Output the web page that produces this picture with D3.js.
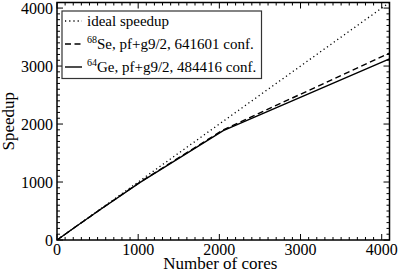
<!DOCTYPE html>
<html><head><meta charset="utf-8">
<script src="https://cdn.jsdelivr.net/npm/d3@7"></script>
<style>body{margin:0;background:#fff}svg{display:block}</style>
</head><body><svg id="c" width="399" height="272"></svg>
<script>
const cores = [0, 256, 512, 1024, 2048, 4096];
const ideal = [0, 256, 512, 1024, 2048, 4096];
const se68 = [0, 254, 506, 1000, 1900, 3222];
const ge64 = [0, 254, 505, 995, 1885, 3123];
const xTicks = [0, 1000, 2000, 3000, 4000];
const yTicks = [0, 1000, 2000, 3000, 4000];
const seriesNames = ["ideal speedup", "Se, pf+g9/2, 641601 conf.", "Ge, pf+g9/2, 484416 conf."];
const seriesSup = ["", "68", "64"];

const FF = "'Liberation Serif', 'DejaVu Serif', 'Times New Roman', serif";
const svg = d3.select("#c").attr("font-family", FF);
const L = 57, R = 389.5, T = 2.5, B = 240;
const x = d3.scaleLinear().domain([0, 4096]).range([L, R]);
const y = d3.scaleLinear().domain([0, 4096]).range([B, T]);

const minor = d3.range(0, 4097, 100).filter(v => v % 1000 !== 0);
const g = svg.append("g");
function ticks(vals, len) {
  vals.forEach(v => {
    g.append("line").attr("x1", x(v)).attr("x2", x(v)).attr("y1", B).attr("y2", B - len).attr("stroke", "#000").attr("stroke-width", 1);
    g.append("line").attr("x1", x(v)).attr("x2", x(v)).attr("y1", T).attr("y2", T + len).attr("stroke", "#000").attr("stroke-width", 1);
    g.append("line").attr("y1", y(v)).attr("y2", y(v)).attr("x1", L).attr("x2", L + len).attr("stroke", "#000").attr("stroke-width", 1);
    g.append("line").attr("y1", y(v)).attr("y2", y(v)).attr("x1", R).attr("x2", R - len).attr("stroke", "#000").attr("stroke-width", 1);
  });
}
ticks(minor, 3);
ticks(xTicks, 6);

xTicks.forEach(v => g.append("text").attr("font-family", FF).attr("x", x(v)).attr("y", 255).attr("text-anchor", "middle").attr("font-size", 16).text(v));
yTicks.forEach(v => g.append("text").attr("font-family", FF).attr("x", 53).attr("y", y(v) + 5.5).attr("text-anchor", "end").attr("font-size", 16).text(v));

svg.append("text").attr("font-family", FF).attr("x", (L + R) / 2 - 3).attr("y", 268.5).attr("text-anchor", "middle").attr("font-size", 17).text("Number of cores");
svg.append("text").attr("font-family", FF).attr("transform", `translate(14,${(T + B) / 2}) rotate(-90)`).attr("text-anchor", "middle").attr("font-size", 17).text("Speedup");

const line = d3.line().x((d, i) => x(cores[i])).y(d => y(d));
const styles = [
  {data: ideal, dash: "1.2,3", w: 1.3},
  {data: se68, dash: "6,3.5", w: 1.4},
  {data: ge64, dash: null, w: 1.4}
];
svg.append("clipPath").attr("id", "cp").append("rect").attr("x", L).attr("y", T).attr("width", R - L).attr("height", B - T);
styles.forEach(s => {
  svg.append("path").attr("d", line(s.data)).attr("fill", "none").attr("stroke", "#000")
    .attr("stroke-width", s.w).attr("stroke-dasharray", s.dash).attr("clip-path", "url(#cp)");
});

svg.append("rect").attr("x", L).attr("y", T).attr("width", R - L).attr("height", B - T)
  .attr("fill", "none").attr("stroke", "#000").attr("stroke-width", 1.5);

const lg = svg.append("g");
lg.append("rect").attr("x", 62).attr("y", 11).attr("width", 199.5).attr("height", 67.5)
  .attr("fill", "#fff").attr("stroke", "#333").attr("stroke-width", 1.2);
const rowsY = [26, 49, 72];
styles.forEach((s, i) => {
  lg.append("line").attr("x1", 65).attr("x2", 82).attr("y1", rowsY[i] - 5).attr("y2", rowsY[i] - 5)
    .attr("stroke", "#000").attr("stroke-width", s.w).attr("stroke-dasharray", s.dash);
  const t = lg.append("text").attr("font-family", FF).attr("x", 87).attr("y", rowsY[i]).attr("font-size", 15);
  if (seriesSup[i]) t.append("tspan").attr("font-size", 10).attr("dy", -6).text(seriesSup[i]);
  t.append("tspan").attr("dy", seriesSup[i] ? 6 : 0).text(seriesNames[i]);
});
</script></body></html>
